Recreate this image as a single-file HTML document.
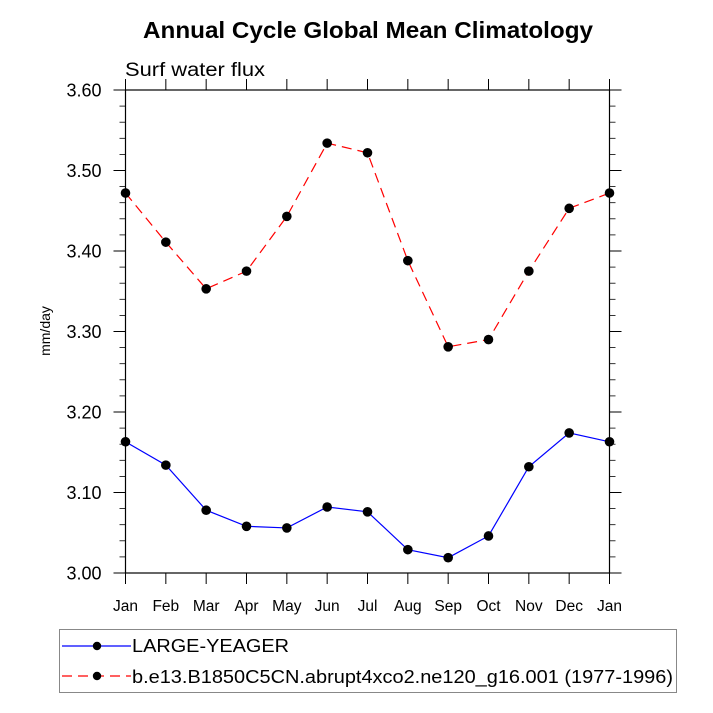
<!DOCTYPE html>
<html><head><meta charset="utf-8"><style>
html,body{margin:0;padding:0;background:#fff;}
svg{display:block;font-family:"Liberation Sans",sans-serif;}
</style></head><body>
<svg id="chart" width="713" height="713" viewBox="0 0 713 713">
<text x="368" y="38" text-anchor="middle" font-size="23" font-weight="bold" textLength="450" lengthAdjust="spacingAndGlyphs">Annual Cycle Global Mean Climatology</text>
<text x="125" y="76" font-size="19" textLength="140" lengthAdjust="spacingAndGlyphs">Surf water flux</text>
<text transform="translate(50,331) rotate(-90)" text-anchor="middle" font-size="14">mm/day</text>
<g id="axes"></g>
<g id="series"></g>
<g>
<rect x="59.5" y="629.5" width="617" height="63" fill="none" stroke="#888" stroke-width="1"/>
<g>
<line x1="62" y1="646" x2="131" y2="646" stroke="#0000ff" stroke-width="1.2"/>
<circle cx="97" cy="646" r="4.2" fill="#000"/>
<text x="132" y="652" font-size="18" textLength="157" lengthAdjust="spacingAndGlyphs">LARGE-YEAGER</text>
</g>
<g>
<line x1="62" y1="676" x2="131" y2="676" stroke="#ff0000" stroke-width="1.2" stroke-dasharray="10,6"/>
<circle cx="97" cy="676" r="4.2" fill="#000"/>
<text x="132" y="683" font-size="18" textLength="541" lengthAdjust="spacingAndGlyphs">b.e13.B1850C5CN.abrupt4xco2.ne120_g16.001 (1977-1996)</text>
</g>
</g>
</svg>
<script>
const months = ["Jan","Feb","Mar","Apr","May","Jun","Jul","Aug","Sep","Oct","Nov","Dec","Jan"];
const yTickLabels = ["3.00","3.10","3.20","3.30","3.40","3.50","3.60"];
const yTickValues = [3.0,3.1,3.2,3.3,3.4,3.5,3.6];
const largeYeager = [3.163,3.134,3.078,3.058,3.056,3.082,3.076,3.029,3.019,3.046,3.132,3.174,3.163];
const modelRun = [3.472,3.411,3.353,3.375,3.443,3.534,3.522,3.388,3.281,3.290,3.375,3.453,3.472];

const X0=125.5, X1=609.5, Y0=573, Y1=90, YMIN=3.0, YMAX=3.6;
const NS="http://www.w3.org/2000/svg";
function xs(i){return X0+(X1-X0)*i/(months.length-1);}
function ys(v){return Y0-(v-YMIN)/(YMAX-YMIN)*(Y0-Y1);}
function mk(tag,attrs,parent){const e=document.createElementNS(NS,tag);for(const k in attrs)e.setAttribute(k,attrs[k]);parent.appendChild(e);return e;}
const axes=document.getElementById('axes');
const frame=mk('rect',{x:X0,y:Y1,width:X1-X0,height:Y0-Y1,fill:'none',stroke:'#000','stroke-width':1.2},axes);


months.forEach((m,i)=>{
  const x=xs(i);
  mk('line',{x1:x,y1:Y0,x2:x,y2:Y0+11,stroke:'#000','stroke-width':1},axes);
  mk('line',{x1:x,y1:Y1,x2:x,y2:Y1-11,stroke:'#000','stroke-width':1},axes);
  const t=mk('text',{x:x,y:Y0+38,'text-anchor':'middle','font-size':15.5},axes);
  t.textContent=m;
  
  
});
yTickValues.forEach((v,i)=>{
  const y=ys(v);
  mk('line',{x1:X0-12,y1:y,x2:X0,y2:y,stroke:'#000','stroke-width':1},axes);
  mk('line',{x1:X1,y1:y,x2:X1+12,y2:y,stroke:'#000','stroke-width':1},axes);
  const t=mk('text',{x:X0-24,y:y+6.5,'text-anchor':'end','font-size':18},axes);
  t.textContent=yTickLabels[i];
  
  
  if(i<yTickValues.length-1){
    for(let k=1;k<5;k++){
      const ym=ys(v+0.02*k);
      mk('line',{x1:X0-6,y1:ym,x2:X0,y2:ym,stroke:'#000','stroke-width':0.8},axes);
      mk('line',{x1:X1,y1:ym,x2:X1+6,y2:ym,stroke:'#000','stroke-width':0.8},axes);
    }
  }
});
const series=document.getElementById('series');
function draw(vals,color,dash,name){
  const g=mk('g',{},series);
  
  
  const pts=vals.map((v,i)=>xs(i)+','+ys(v)).join(' ');
  const attrs={points:pts,fill:'none',stroke:color,'stroke-width':1.2};
  if(dash)attrs['stroke-dasharray']=dash;
  const pl=mk('polyline',attrs,g);
  
  
  vals.forEach((v,i)=>{
    const c=mk('circle',{cx:xs(i),cy:ys(v),r:4.8,fill:'#000'},g);
    
    
  });
}
draw(modelRun,'#ff0000','10,6','series-model-run');
draw(largeYeager,'#0000ff',null,'series-large-yeager');
</script>
</body></html>
